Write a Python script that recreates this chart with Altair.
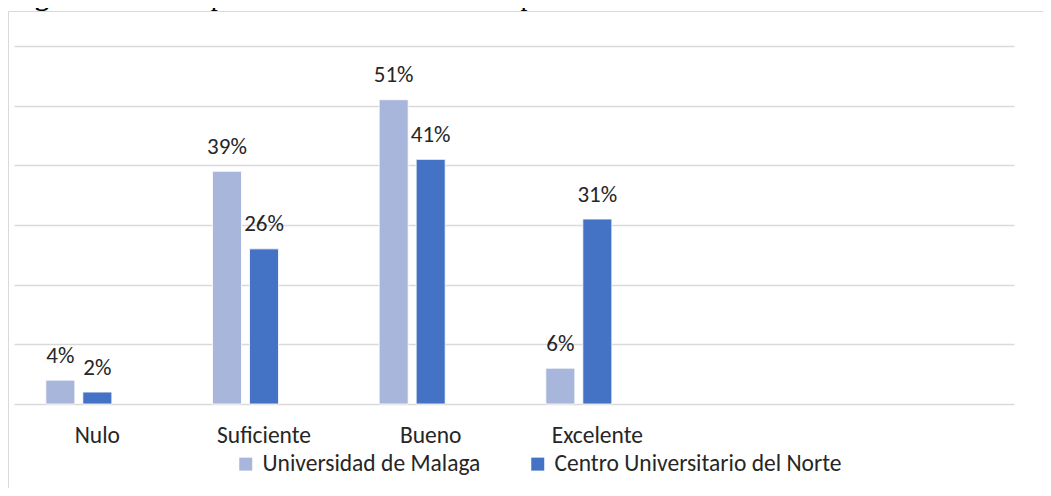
import altair as alt
import pandas as pd

# ---- data ----
categories = ["Nulo", "Suficiente", "Bueno", "Excelente"]
empty_slots = [" ", "  "]
series = ["Universidad de Malaga", "Centro Universitario del Norte"]
malaga = [4, 39, 51, 6]
norte = [2, 26, 41, 31]
y_ticks = [0, 10, 20, 30, 40, 50, 60]
title_bold = "Figura 2."
title_rest = "Desempeño de las TIC antes de la pandemia COVID-19"

rows = []
for s, vals in zip(series, [malaga, norte]):
    for c, v in zip(categories, vals):
        rows.append({"categoria": c, "serie": s, "valor": v, "etiqueta": f"{v}%"})
df = pd.DataFrame(rows)

FONT = "Calibri, Carlito, Lato, sans-serif"
TXT = "#262626"
GRID = "#d9d9d9"
LIGHT = "#a9b6db"
DARK = "#4472c4"

x = alt.X(
    "categoria:N",
    sort=None,
    scale=alt.Scale(domain=categories + empty_slots, paddingInner=0, paddingOuter=0),
    axis=alt.Axis(title=None, domain=False, ticks=False, grid=False, labelAngle=0,
                  labelFont=FONT, labelFontSize=23.5, labelColor=TXT,
                  labelBaseline="alphabetic", labelPadding=38),
)
xoff = alt.XOffset("serie:N",
                   scale=alt.Scale(domain=series + ["_"], paddingInner=0.216, paddingOuter=0.86))
y = alt.Y("valor:Q", scale=alt.Scale(domain=[0, 60], nice=False),
          axis=alt.Axis(values=y_ticks, labels=False, ticks=False, domain=False, title=None,
                        grid=True, gridColor=GRID, gridWidth=1.3))

bars = alt.Chart(df).mark_bar(stroke="white", strokeWidth=0.8).encode(
    x=x, xOffset=xoff, y=y,
    color=alt.Color("serie:N", scale=alt.Scale(domain=series, range=[LIGHT, DARK]),
                    legend=alt.Legend(title=None, orient="none", direction="horizontal",
                                      legendX=220, legendY=406, symbolType="square",
                                      symbolSize=169, symbolStrokeWidth=0, labelFont=FONT,
                                      labelFontSize=23.5, labelColor=TXT, labelOffset=5,
                                      labelLimit=0, columnPadding=45, padding=0)),
)

labels = alt.Chart(df).mark_text(font=FONT, fontSize=23, color=TXT, baseline="middle", dy=-24.5).encode(
    x=x, xOffset=xoff, y=y, text="etiqueta:N"
)

one = alt.Data(values=[{"k": 1}])
border = alt.Chart(one).mark_rect(fill="transparent", stroke=GRID, strokeWidth=1).encode(
    x=alt.value(-5.5), x2=alt.value(1200), y=alt.value(-34.5), y2=alt.value(900)
)
t1 = alt.Chart(alt.Data(values=[{"t": title_bold}])).mark_text(
    font="Liberation Serif", fontSize=28, fontWeight="bold", align="left", baseline="alphabetic", color="#000"
).encode(x=alt.value(-4), y=alt.value(-41), text="t:N")
t2 = alt.Chart(alt.Data(values=[{"t": title_rest}])).mark_text(
    font="Liberation Serif", fontSize=28, align="left", baseline="alphabetic", color="#000"
).encode(x=alt.value(119), y=alt.value(-41), text="t:N")

chart = alt.layer(border, bars, labels, t1, t2).properties(
    width=1000, height=358,
    background="white",
    autosize=alt.AutoSizeParams(type="none"),
    padding={"left": 6, "top": 38, "right": 29, "bottom": 84},
).configure_view(stroke="transparent", strokeWidth=0)

chart.save("out.html", embed_options={"renderer": "svg", "actions": False})
